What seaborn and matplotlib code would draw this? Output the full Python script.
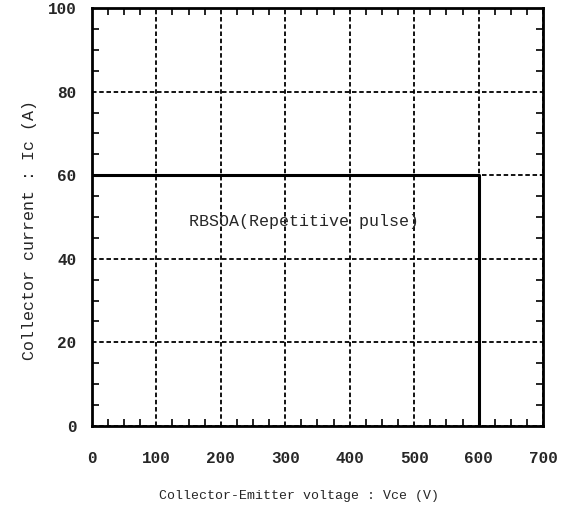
import pandas as pd
import matplotlib.pyplot as plt
import seaborn as sns

# RBSOA boundary (Vce, Ic)
vce = [0, 600, 600]
ic = [60, 60, 0]
x_ticks = [0, 100, 200, 300, 400, 500, 600, 700]
y_ticks = [0, 20, 40, 60, 80, 100]
label_text = "RBSOA(Repetitive pulse)"

sns.set_style("ticks")
plt.rcParams["font.family"] = ["Liberation Mono", "DejaVu Sans Mono"]

df = pd.DataFrame({"Vce": vce, "Ic": ic})

fig = plt.figure(figsize=(5.7, 5.13), dpi=100)
ax = fig.add_axes([0.161, 0.170, 0.792, 0.814])
sns.lineplot(data=df, x="Vce", y="Ic", sort=False, estimator=None,
             color="black", linewidth=2.2, ax=ax)

ax.set_xlim(0, 700)
ax.set_ylim(0, 100)
ax.set_xticks(x_ticks)
ax.set_yticks(y_ticks)
ax.set_xticks(range(0, 701, 25), minor=True)
ax.set_yticks(range(0, 101, 5), minor=True)
ax.grid(True, which="major", color="black", linestyle=(0, (2.5, 1.5)), linewidth=1.3)
ax.tick_params(which="both", direction="in", top=True, right=True, color="black")
ax.tick_params(which="major", length=0, labelsize=11.5)
ax.tick_params(axis="x", which="major", pad=18)
ax.tick_params(axis="y", which="major", pad=11)
ax.tick_params(which="minor", length=5, width=1.2)
for lbl in ax.get_xticklabels() + ax.get_yticklabels():
    lbl.set_fontweight("bold")
for s in ax.spines.values():
    s.set_linewidth(2)
    s.set_color("black")

ax.text(150, 49, label_text, ha="left", va="center", fontsize=12)
ax.set_xlabel("Collector-Emitter voltage : Vce (V)", fontsize=9.5)
ax.set_ylabel("Collector current : Ic (A)", fontsize=12)
ax.xaxis.set_label_coords(0.46, -0.153)
ax.yaxis.set_label_coords(-0.122, 0.469)

plt.savefig("out.png", dpi=100)
plt.close()
